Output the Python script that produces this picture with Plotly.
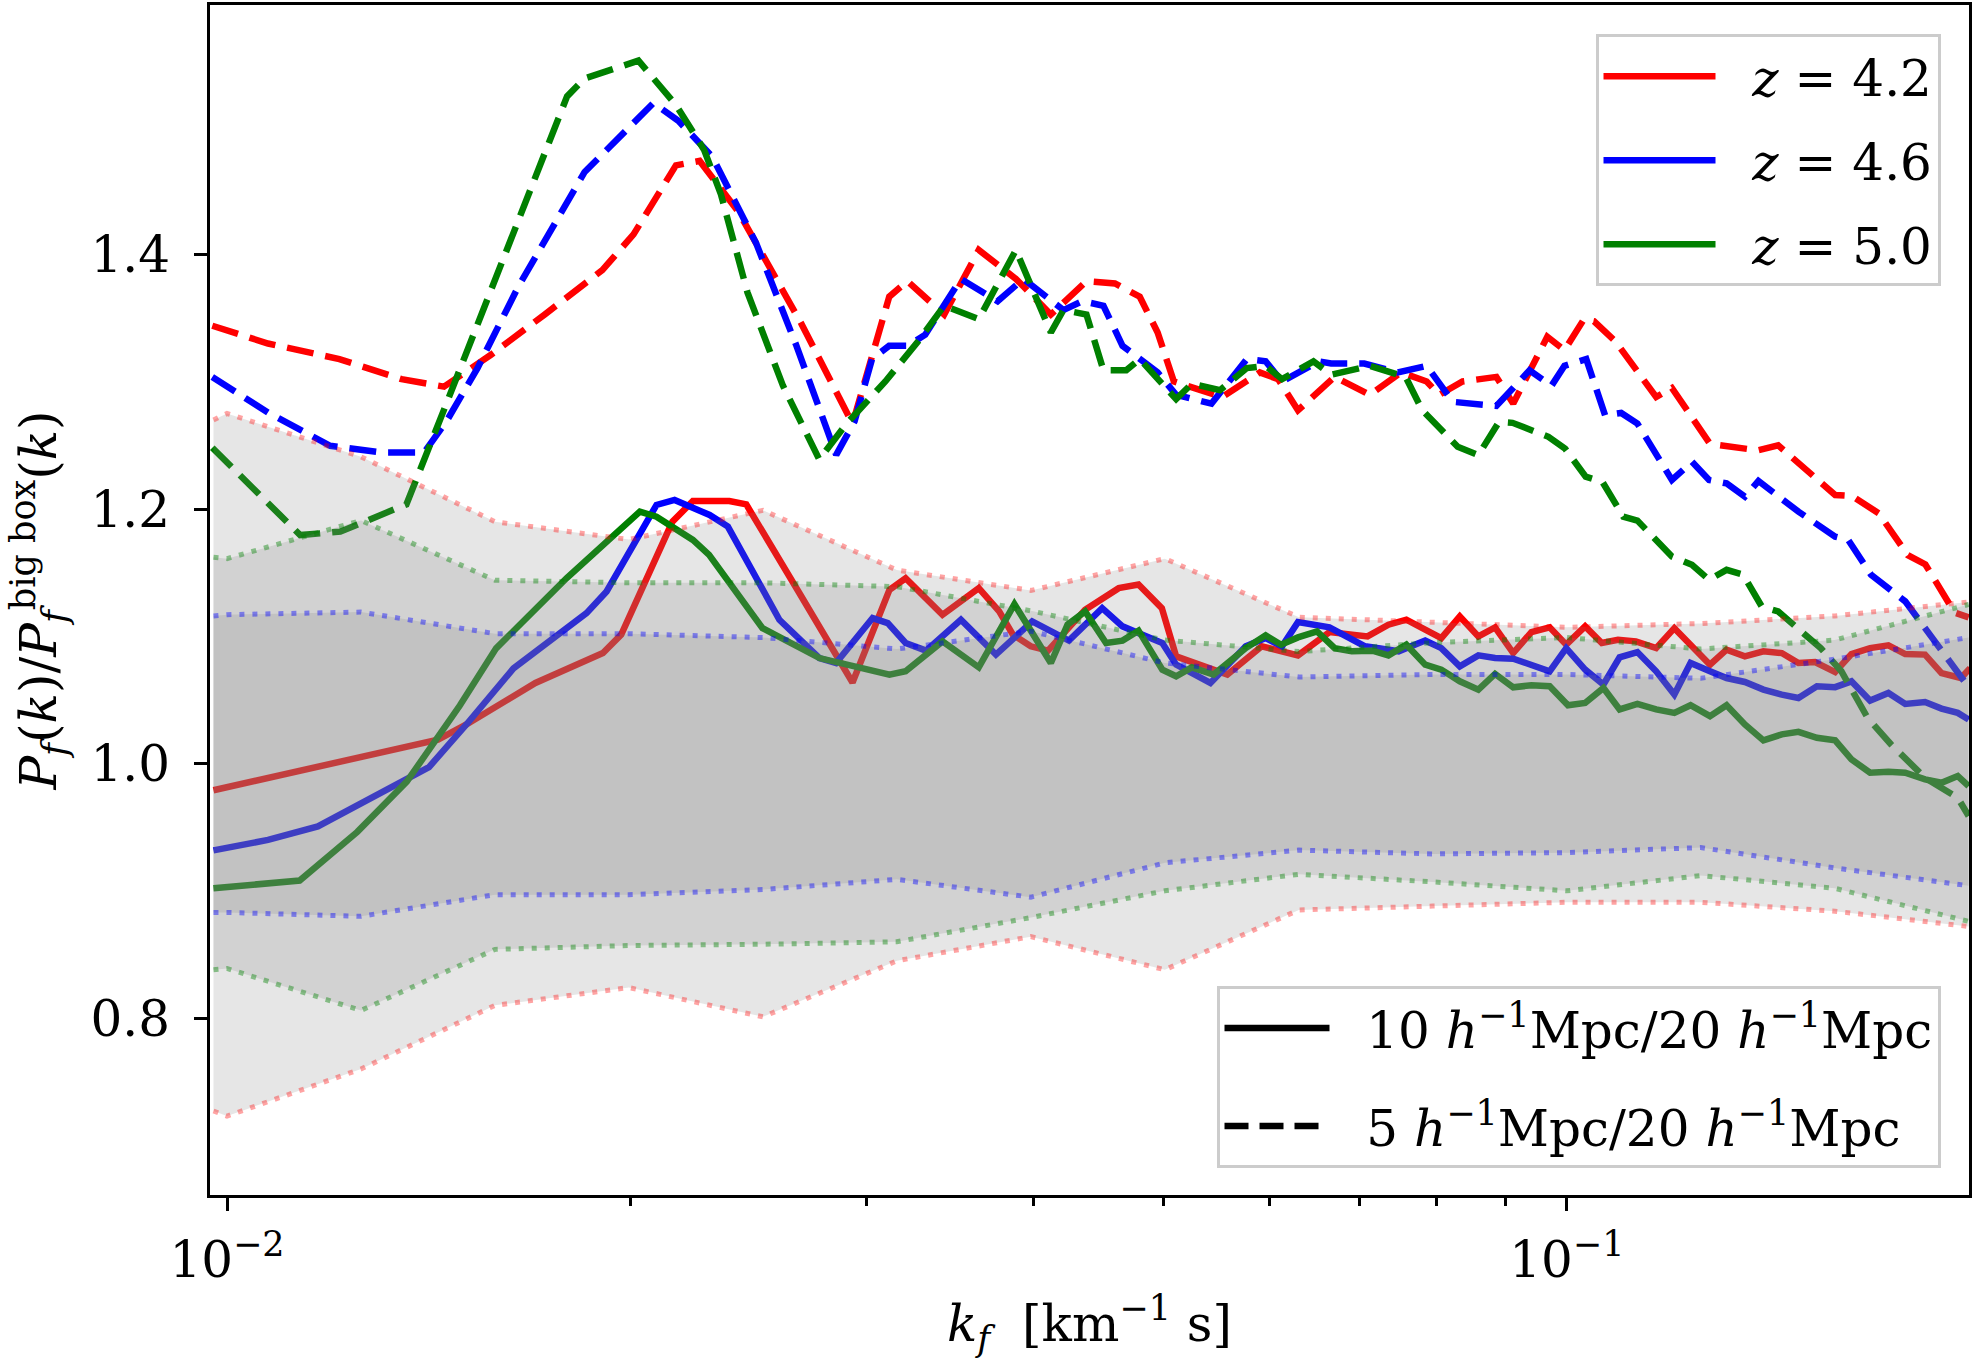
import plotly.graph_objects as go

# ---------------- data ----------------
# solid: 10 Mpc/h / 20 Mpc/h
k_red_solid = [0.00977, 0.01109, 0.01221, 0.01317, 0.01437, 0.01509, 0.01636, 0.01699, 0.01908, 0.01969,
               0.0215, 0.02227, 0.02371, 0.02441, 0.02674, 0.0293, 0.03122, 0.0321, 0.0342, 0.0364,
               0.0377, 0.0386, 0.0398, 0.0410, 0.0437, 0.0463, 0.0479, 0.04986, 0.0511, 0.0528,
               0.0558, 0.0592, 0.0630, 0.0665, 0.0710, 0.0736, 0.0759, 0.0806, 0.0832, 0.0859,
               0.0884, 0.0912, 0.0941, 0.0971, 0.0999, 0.1032, 0.1062, 0.1092, 0.1126, 0.1166,
               0.1203, 0.1279, 0.1316, 0.1358, 0.1402, 0.1447, 0.1489, 0.1532, 0.1586, 0.1631,
               0.1684, 0.1738, 0.1789, 0.1851, 0.1904, 0.1969, 0.2000]
red_solid = [0.979, 0.9925, 1.0027, 1.0098, 1.0188, 1.0307, 1.0529, 1.0633, 1.0868, 1.1013,
             1.190, 1.2063, 1.2063, 1.2036, 1.134, 1.0637, 1.1365, 1.1456, 1.1169, 1.1378,
             1.1195, 1.1013, 1.0921, 1.0887, 1.1209, 1.1378, 1.1407, 1.1221, 1.0842, 1.079,
             1.0699, 1.0921, 1.085, 1.1033, 1.0999, 1.1091, 1.113, 1.0986, 1.1156, 1.0999,
             1.107, 1.0868, 1.1033, 1.107, 1.0934, 1.1078, 1.0947, 1.0973, 1.096, 1.0907,
             1.1064, 1.0777, 1.0895, 1.0842, 1.0882, 1.0868, 1.079, 1.0798, 1.0719, 1.086,
             1.0907, 1.0929, 1.086, 1.0856, 1.0711, 1.0672, 1.075]

k_blue_solid = [0.00977, 0.01073, 0.01169, 0.01279, 0.01415, 0.01509, 0.01636, 0.01855, 0.0192, 0.02092,
                0.02158, 0.02292, 0.02365, 0.02584, 0.02768, 0.02848, 0.03033, 0.03113, 0.0321, 0.03325,
                0.0353, 0.03749, 0.0399, 0.0425, 0.0450, 0.0466, 0.0499, 0.0511, 0.0542, 0.0576,
                0.0596, 0.0613, 0.0630, 0.0665, 0.0707, 0.0749, 0.0784, 0.0806, 0.0832, 0.0859,
                0.0884, 0.0912, 0.0941, 0.0971, 0.0999, 0.1032, 0.1065, 0.1095, 0.1129, 0.1166,
                0.1203, 0.1237, 0.1279, 0.1316, 0.1358, 0.1402, 0.1447, 0.1489, 0.1537, 0.1586,
                0.1631, 0.1684, 0.1738, 0.1789, 0.1851, 0.1904, 0.1958, 0.1995]
blue_solid = [0.9318, 0.940, 0.9506, 0.9721, 0.9972, 1.0307, 1.0748, 1.1182, 1.1352, 1.2032,
              1.2071, 1.1953, 1.1862, 1.113, 1.0829, 1.079, 1.1143, 1.1103, 1.0947, 1.0887,
              1.113, 1.0856, 1.1117, 1.0966, 1.1221, 1.1078, 1.0947, 1.0777, 1.0633, 1.0921,
              1.0986, 1.0921, 1.1111, 1.107, 1.0921, 1.0882, 1.0966, 1.0907, 1.0764, 1.085,
              1.0829, 1.0824, 1.0777, 1.0725, 1.0907, 1.0738, 1.0621, 1.0835, 1.0876, 1.0725,
              1.0542, 1.079, 1.0725, 1.0672, 1.0641, 1.0581, 1.0542, 1.0515, 1.0607, 1.060,
              1.0646, 1.0495, 1.0555, 1.0468, 1.0484, 1.0432, 1.0398, 1.0346]

k_green_solid = [0.00977, 0.01133, 0.01251, 0.01362, 0.01492, 0.01588, 0.01792, 0.02033, 0.02092, 0.02227,
                 0.0229, 0.0251, 0.02768, 0.03122, 0.0321, 0.0342, 0.0364, 0.0387, 0.0412, 0.0424,
                 0.0437, 0.0453, 0.0466, 0.0479, 0.0499, 0.0511, 0.0525, 0.0545, 0.0576, 0.0596,
                 0.0612, 0.0630, 0.0651, 0.0671, 0.0691, 0.0716, 0.0736, 0.0759, 0.0784, 0.0806,
                 0.0832, 0.0859, 0.0884, 0.0912, 0.0941, 0.0971, 0.1002, 0.1032, 0.1065, 0.1095,
                 0.1129, 0.1166, 0.1203, 0.1237, 0.1279, 0.1316, 0.1358, 0.1402, 0.1447, 0.1489,
                 0.1537, 0.1586, 0.1631, 0.1684, 0.1738, 0.1789, 0.1851, 0.1904, 0.1958, 0.1995]
green_solid = [0.902, 0.9081, 0.9463, 0.9858, 1.0456, 1.0905, 1.1456, 1.1979, 1.194, 1.1757,
               1.164, 1.1064, 1.0829, 1.0699, 1.0725, 1.096, 1.0756, 1.1252, 1.079, 1.1091,
               1.1195, 1.0947, 1.0966, 1.1044, 1.0738, 1.0686, 1.0756, 1.0699, 1.0907, 1.1007,
               1.0934, 1.0991, 1.1038, 1.0907, 1.0882, 1.0887, 1.085, 1.0934, 1.0777, 1.0738,
               1.0646, 1.0581, 1.0704, 1.0599, 1.0615, 1.0607, 1.0458, 1.0476, 1.0594, 1.0425,
               1.0468, 1.0425, 1.0398, 1.0458, 1.0372, 1.0458, 1.0307, 1.0182, 1.0229, 1.0249,
               1.0202, 1.0182, 1.0033, 0.9928, 0.9935, 0.9928, 0.9876, 0.9849, 0.9902, 0.9823]

# dashed: 5 Mpc/h / 20 Mpc/h
k_red_dash = [0.00975, 0.01073, 0.01213, 0.0135, 0.01452, 0.01574, 0.01726, 0.01906, 0.02011, 0.02163,
              0.02253, 0.02409, 0.02683, 0.0293, 0.03121, 0.0322, 0.0343, 0.0364, 0.0388, 0.0412,
              0.0438, 0.0460, 0.0480, 0.0495, 0.0509, 0.0553, 0.0590, 0.0609, 0.0630, 0.0671,
              0.0713, 0.0752, 0.0786, 0.0803, 0.0836, 0.0886, 0.0912, 0.0967, 0.0996, 0.1030,
              0.1048, 0.1087, 0.1166, 0.1198, 0.1279, 0.1388, 0.1438, 0.1490, 0.1586, 0.1632,
              0.1709, 0.1797, 0.1852, 0.1947, 0.1995]
red_dash = [1.344, 1.330, 1.3178, 1.302, 1.2961, 1.3212, 1.3528, 1.3877, 1.4158, 1.470,
            1.4735, 1.4333, 1.3458, 1.267, 1.3668, 1.379, 1.3528, 1.4035, 1.3808, 1.3528,
            1.379, 1.3772, 1.3668, 1.3387, 1.3002, 1.288, 1.3073, 1.302, 1.2775, 1.3038,
            1.2897, 1.3073, 1.3002, 1.2897, 1.3002, 1.3038, 1.2828, 1.3353, 1.3248, 1.3492,
            1.3475, 1.3318, 1.288, 1.2951, 1.2512, 1.2461, 1.250, 1.2356, 1.211, 1.2102,
            1.1967, 1.1637, 1.1564, 1.1187, 1.1148]

k_blue_dash = [0.00975, 0.01073, 0.01194, 0.01309, 0.01403, 0.01458, 0.01538, 0.01648, 0.01849, 0.01965,
               0.02081, 0.02172, 0.02302, 0.02483, 0.02661, 0.02849, 0.0294, 0.0303, 0.0312, 0.0322,
               0.0332, 0.0353, 0.0376, 0.0393, 0.0421, 0.0435, 0.0451, 0.0466, 0.0495, 0.0511,
               0.0543, 0.0577, 0.0596, 0.0613, 0.0653, 0.0667, 0.0706, 0.0748, 0.0786, 0.0822,
               0.0886, 0.0912, 0.0938, 0.0974, 0.0996, 0.1034, 0.1068, 0.1098, 0.1129, 0.1198,
               0.1240, 0.1277, 0.1316, 0.1358, 0.1390, 0.1489, 0.1586, 0.1622, 0.1687, 0.1789,
               0.1851, 0.1995]
blue_dash = [1.3038, 1.2758, 1.2497, 1.2443, 1.2443, 1.2688, 1.3107, 1.3738, 1.4648, 1.4928,
             1.519, 1.505, 1.477, 1.4087, 1.3282, 1.2425, 1.2688, 1.3178, 1.3282, 1.3282,
             1.337, 1.3808, 1.3633, 1.3808, 1.3563, 1.3633, 1.3597, 1.3282, 1.3073, 1.2897,
             1.2828, 1.3178, 1.316, 1.3002, 1.316, 1.3143, 1.3143, 1.3073, 1.3125, 1.2842,
             1.281, 1.2951, 1.309, 1.2968, 1.3125, 1.3178, 1.2737, 1.2755, 1.2672, 1.2228,
             1.2371, 1.2228, 1.2201, 1.2097, 1.222, 1.1979, 1.1783, 1.1757, 1.1483, 1.1274,
             1.1064, 1.060]

k_green_dash = [0.00975, 0.01134, 0.01215, 0.01361, 0.01458, 0.01549, 0.01673, 0.01794, 0.01849, 0.02028,
                0.02164, 0.0227, 0.02337, 0.02446, 0.0260, 0.02767, 0.0290, 0.0310, 0.0328, 0.0343,
                0.0364, 0.0388, 0.0412, 0.0421, 0.0438, 0.0451, 0.0469, 0.0480, 0.0511, 0.0525,
                0.0551, 0.0577, 0.0596, 0.0613, 0.0647, 0.0667, 0.0713, 0.0758, 0.0780, 0.0829,
                0.0859, 0.0890, 0.0911, 0.0969, 0.0997, 0.1033, 0.1063, 0.1102, 0.1129, 0.1198,
                0.1240, 0.1277, 0.1316, 0.1354, 0.1398, 0.1438, 0.1547, 0.1603, 0.1677, 0.1746,
                0.1851, 0.1958, 0.1995]
green_dash = [1.2481, 1.1795, 1.1822, 1.2036, 1.2828, 1.3528, 1.4403, 1.5242, 1.5383, 1.5523,
              1.5172, 1.4823, 1.4472, 1.3702, 1.2968, 1.239, 1.267, 1.3002, 1.3318, 1.3597,
              1.3492, 1.4035, 1.3387, 1.3563, 1.3528, 1.309, 1.309, 1.3178, 1.2863, 1.2985,
              1.2933, 1.3107, 1.3125, 1.302, 1.316, 1.3055, 1.3125, 1.3038, 1.2777, 1.2489,
              1.2424, 1.2685, 1.2677, 1.2567, 1.2475, 1.2254, 1.2214, 1.194, 1.1909, 1.1626,
              1.1561, 1.1444, 1.1522, 1.1483, 1.1234, 1.1195, 1.0907, 1.0725, 1.0359, 1.015,
              0.9888, 0.9731, 0.9588]

# scatter bands (dotted bounds, grey fill)
band_k = [0.00977, 0.0100, 0.01259, 0.01585, 0.01995, 0.02512, 0.03162, 0.03981, 0.05012, 0.0631,
          0.07943, 0.1000, 0.1259, 0.1585, 0.1995]
red_hi = [1.270, 1.275, 1.241, 1.190, 1.176, 1.199, 1.152, 1.136, 1.161, 1.115, 1.111, 1.107, 1.110, 1.116, 1.127]
red_lo = [0.727, 0.723, 0.760, 0.810, 0.824, 0.801, 0.845, 0.864, 0.838, 0.885, 0.888, 0.891, 0.891, 0.884, 0.872]
green_hi = [1.162, 1.161, 1.191, 1.144, 1.142, 1.142, 1.139, 1.120, 1.097, 1.088, 1.095, 1.099, 1.090, 1.097, 1.125]
green_lo = [0.838, 0.839, 0.806, 0.854, 0.857, 0.858, 0.860, 0.879, 0.900, 0.913, 0.907, 0.900, 0.912, 0.902, 0.876]
blue_hi = [1.116, 1.117, 1.119, 1.102, 1.102, 1.099, 1.090, 1.104, 1.079, 1.068, 1.070, 1.070, 1.067, 1.082, 1.099]
blue_lo = [0.883, 0.883, 0.880, 0.897, 0.897, 0.901, 0.909, 0.895, 0.922, 0.932, 0.929, 0.930, 0.934, 0.918, 0.904]

PAD = "\u00a0\u00a0"
z_labels = [PAD + "<i>z</i> = 4.2", PAD + "<i>z</i> = 4.6", PAD + "<i>z</i> = 5.0"]
ratio_labels = [PAD + "10 <i>h</i><sup>−1</sup>Mpc/20 <i>h</i><sup>−1</sup>Mpc",
                PAD + "5 <i>h</i><sup>−1</sup>Mpc/20 <i>h</i><sup>−1</sup>Mpc"]

# ---------------- figure ----------------
FONT = "DejaVu Serif"
RED, BLUE, GREEN = "#ff0000", "#0000ff", "#008000"
LW = 6.5
DASH = "27px,12px"

fig = go.Figure()

solid_sets = [(k_red_solid, red_solid, RED), (k_blue_solid, blue_solid, BLUE), (k_green_solid, green_solid, GREEN)]
for i, (kk, vv, col) in enumerate(solid_sets):
    fig.add_trace(go.Scatter(x=kk, y=vv, mode="lines", line=dict(color=col, width=LW),
                             name=z_labels[i], legend="legend", legendgroup="z%d" % i,
                             showlegend=True, hoverinfo="skip"))

dash_sets = [(k_red_dash, red_dash, RED), (k_blue_dash, blue_dash, BLUE), (k_green_dash, green_dash, GREEN)]
for kk, vv, col in dash_sets:
    fig.add_trace(go.Scatter(x=kk, y=vv, mode="lines", line=dict(color=col, width=LW, dash=DASH),
                             showlegend=False, hoverinfo="skip"))

bands = [(red_lo, red_hi, "rgba(255,0,0,0.36)"),
         (green_lo, green_hi, "rgba(0,128,0,0.42)"),
         (blue_lo, blue_hi, "rgba(0,0,255,0.42)")]
for lo, hi, col in bands:
    fig.add_trace(go.Scatter(x=band_k, y=lo, mode="lines",
                             line=dict(color=col, width=5, dash="5px,8px"),
                             showlegend=False, hoverinfo="skip"))
    fig.add_trace(go.Scatter(x=band_k, y=hi, mode="lines", fill="tonexty",
                             fillcolor="rgba(128,128,128,0.2)",
                             line=dict(color=col, width=5, dash="5px,8px"),
                             showlegend=False, hoverinfo="skip"))

# second legend: line styles
fig.add_trace(go.Scatter(x=[None], y=[None], mode="lines", line=dict(color="black", width=LW),
                         name=ratio_labels[0], legend="legend2", legendgroup="r0", showlegend=True))
fig.add_trace(go.Scatter(x=[None], y=[None], mode="lines", line=dict(color="black", width=LW, dash="24px,11px"),
                         name=ratio_labels[1], legend="legend2", legendgroup="r1", showlegend=True))

axis_common = dict(showline=True, mirror=True, linecolor="black", linewidth=3,
                   ticks="outside", tickwidth=3, tickcolor="black", showgrid=False, zeroline=False)

fig.update_layout(
    width=1974, height=1359,
    margin=dict(l=210, r=3, t=2, b=164, pad=0),
    plot_bgcolor="white", paper_bgcolor="white",
    font=dict(family=FONT, size=50, color="black"),
    xaxis=dict(type="log", range=[-2.0127, -0.6998], ticklen=13,
               tickvals=[0.01, 0.1], ticktext=["10<sup>−2</sup>", "10<sup>−1</sup>"],
               ticklabelstandoff=6,
               minor=dict(tickvals=[0.02, 0.03, 0.04, 0.05, 0.06, 0.07, 0.08, 0.09],
                          ticks="outside", ticklen=8, tickwidth=2.5, tickcolor="black"),
               title=dict(text="<i>k<sub>f</sub></i>  [km<sup>−1</sup> s]", standoff=22,
                          font=dict(size=50)),
               **axis_common),
    yaxis=dict(range=[0.661, 1.596], ticklen=13,
               tickvals=[0.8, 1.0, 1.2, 1.4], ticktext=["0.8", "1.0", "1.2", "1.4"],
               ticklabelstandoff=14,
               title=dict(text="<i>P<sub>f</sub></i>(<i>k</i>)/<i>P</i><sub><i>f</i></sub><sup>big box</sup>(<i>k</i>)",
                          standoff=18, font=dict(size=50)),
               **axis_common),
    legend=dict(x=0.9838, y=0.9754, xanchor="right", yanchor="top",
                bgcolor="white", bordercolor="#cccccc", borderwidth=3,
                font=dict(family=FONT, size=50), tracegroupgap=16, itemwidth=112),
    legend2=dict(x=0.9838, y=0.0226, xanchor="right", yanchor="bottom",
                 bgcolor="white", bordercolor="#cccccc", borderwidth=3,
                 font=dict(family=FONT, size=50), tracegroupgap=30, itemwidth=105),
    showlegend=True,
)

fig.write_html("out.html")
